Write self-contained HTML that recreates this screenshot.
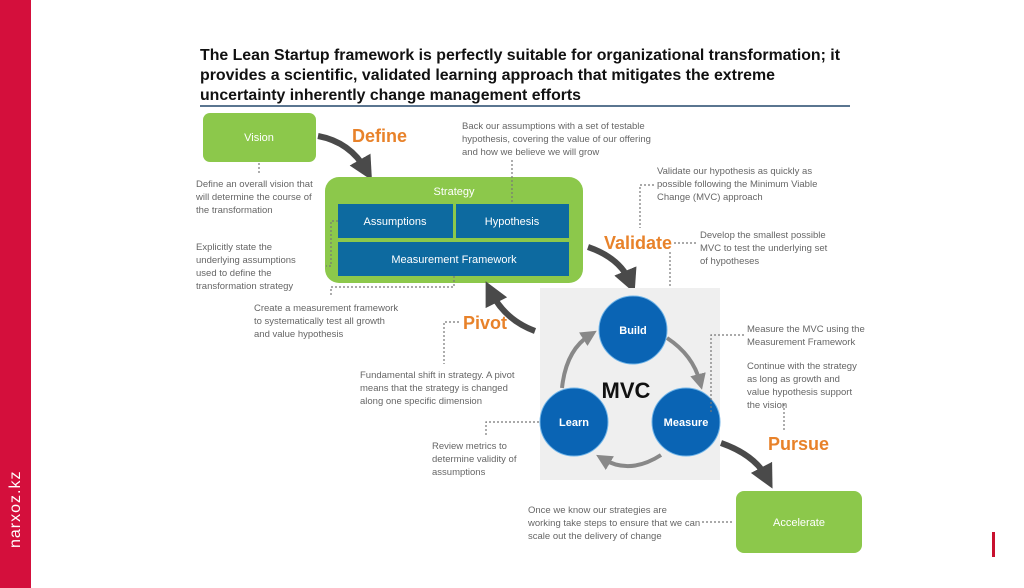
<!DOCTYPE html>
<html><head><meta charset="utf-8"><style>
html,body{margin:0;padding:0;background:#fff;}
svg{display:block;}
text{font-family:"Liberation Sans",sans-serif;}
.n{font-size:9.5px;fill:#666;}
.o{font-size:18px;font-weight:bold;fill:#e8822a;}
.w{fill:#fff;font-size:11px;text-anchor:middle;}
.d{stroke:#777;stroke-width:1.2;stroke-dasharray:2 2;fill:none;}
.a{stroke:#4a4a4a;stroke-width:6;fill:none;}
.g{stroke:#888;stroke-width:4;fill:none;}
</style></head><body>
<svg width="1024" height="588" viewBox="0 0 1024 588">
<defs>
<marker id="ah" markerWidth="4" markerHeight="4" refX="2" refY="2" orient="auto" markerUnits="strokeWidth"><path d="M0,0 L4,2 L0,4 Z" fill="#4a4a4a"/></marker>
<marker id="ag" markerWidth="4" markerHeight="4" refX="2" refY="2" orient="auto" markerUnits="strokeWidth"><path d="M0,0 L4,2 L0,4 Z" fill="#888"/></marker>
</defs>
<rect x="0" y="0" width="31" height="588" fill="#d40f3c"/>
<text transform="translate(20,548) rotate(-90)" font-size="16" fill="#fff" style="letter-spacing:1px">narxoz.kz</text>
<rect x="992" y="532" width="3" height="25" fill="#c8102e"/>
<g font-size="16" font-weight="bold" fill="#111">
<text x="200" y="60" textLength="640" lengthAdjust="spacingAndGlyphs">The Lean Startup framework is perfectly suitable for organizational transformation; it</text>
<text x="200" y="80" textLength="575" lengthAdjust="spacingAndGlyphs">provides a scientific, validated learning approach that mitigates the extreme</text>
<text x="200" y="100" textLength="381" lengthAdjust="spacingAndGlyphs">uncertainty inherently change management efforts</text>
</g>
<rect x="200" y="105" width="650" height="2" fill="#5a7590"/>
<!-- Vision -->
<rect x="203" y="113" width="113" height="49" rx="7" fill="#8cc84b"/>
<text x="259" y="141" class="w">Vision</text>
<text x="352" y="142" class="o">Define</text>
<path class="a" d="M318,136 Q350,142 366,170" marker-end="url(#ah)"/>
<path class="d" d="M259,163 V175"/>
<text class="n"><tspan x="196" y="187">Define an overall vision that</tspan><tspan x="196" y="200">will determine the course of</tspan><tspan x="196" y="213">the transformation</tspan></text>
<!-- Strategy -->
<rect x="325" y="177" width="258" height="106" rx="14" fill="#8cc84b"/>
<text x="454" y="195" class="w">Strategy</text>
<rect x="338" y="204" width="115" height="34" fill="#0d6aa0"/>
<rect x="456" y="204" width="113" height="34" fill="#0d6aa0"/>
<rect x="338" y="242" width="231" height="34" fill="#0d6aa0"/>
<text x="395" y="225" class="w" font-size="12">Assumptions</text>
<text x="512" y="225" class="w" font-size="12">Hypothesis</text>
<text x="454" y="263" class="w" font-size="12">Measurement  Framework</text>
<text class="n"><tspan x="462" y="129">Back our assumptions with a set of testable</tspan><tspan x="462" y="142">hypothesis, covering the value of our offering</tspan><tspan x="462" y="155">and how we believe we will grow</tspan></text>
<path class="d" d="M512,160 V204"/>
<text class="n"><tspan x="196" y="250">Explicitly  state the</tspan><tspan x="196" y="263">underlying assumptions</tspan><tspan x="196" y="276">used to define the</tspan><tspan x="196" y="289">transformation strategy</tspan></text>
<path class="d" d="M338,221 H331 V266 H326"/>
<path class="d" d="M454,276 V287 H331 V297"/>
<text class="n"><tspan x="254" y="311">Create a measurement framework</tspan><tspan x="254" y="324">to systematically test all growth</tspan><tspan x="254" y="337">and value hypothesis</tspan></text>
<!-- Validate -->
<text class="n"><tspan x="657" y="174">Validate our hypothesis as quickly as</tspan><tspan x="657" y="187">possible following the Minimum  Viable</tspan><tspan x="657" y="200">Change (MVC)  approach</tspan></text>
<path class="d" d="M654,185 H640 V228"/>
<text x="604" y="249" class="o">Validate</text>
<path class="d" d="M674,243 H697 M670,252 V330"/>
<text class="n"><tspan x="700" y="238">Develop the smallest possible</tspan><tspan x="700" y="251">MVC  to test the underlying  set</tspan><tspan x="700" y="264">of hypotheses</tspan></text>
<path class="a" d="M588,247 Q620,258 630,282" marker-end="url(#ah)"/>
<!-- MVC -->
<rect x="540" y="288" width="180" height="192" fill="#efefef"/>
<path class="g" d="M562,388 Q566,350 590,335" marker-end="url(#ag)"/>
<path class="g" d="M667,338 Q693,355 700,382" marker-end="url(#ag)"/>
<path class="g" d="M661,455 Q630,475 603,459" marker-end="url(#ag)"/>
<circle cx="633" cy="330" r="34" fill="#0a64b4" stroke="#6fb4e8" stroke-width="1"/>
<circle cx="574" cy="422" r="34" fill="#0a64b4" stroke="#6fb4e8" stroke-width="1"/>
<circle cx="686" cy="422" r="34" fill="#0a64b4" stroke="#6fb4e8" stroke-width="1"/>
<text x="633" y="334" class="w" font-weight="bold">Build</text>
<text x="574" y="426" class="w" font-weight="bold">Learn</text>
<text x="686" y="426" class="w" font-weight="bold">Measure</text>
<text x="626" y="398" font-size="22" font-weight="bold" text-anchor="middle" fill="#111">MVC</text>
<!-- Pivot -->
<text x="463" y="329" class="o">Pivot</text>
<path class="a" d="M535,331 Q505,320 491,292" marker-end="url(#ah)"/>
<path class="d" d="M459,322 H444 V364"/>
<text class="n"><tspan x="360" y="378">Fundamental shift in strategy. A pivot</tspan><tspan x="360" y="391">means that the strategy is changed</tspan><tspan x="360" y="404">along one specific dimension</tspan></text>
<path class="d" d="M539,422 H486 V436"/>
<text class="n"><tspan x="432" y="449">Review metrics to</tspan><tspan x="432" y="462">determine validity of</tspan><tspan x="432" y="475">assumptions</tspan></text>
<!-- Measure notes -->
<path class="d" d="M744,335 H711 V412"/>
<text class="n"><tspan x="747" y="332">Measure the MVC  using the</tspan><tspan x="747" y="345">Measurement Framework</tspan><tspan x="747" y="369">Continue with the strategy</tspan><tspan x="747" y="382">as long as growth and</tspan><tspan x="747" y="395">value hypothesis support</tspan><tspan x="747" y="408">the vision</tspan></text>
<path class="d" d="M784,404 V430"/>
<text x="768" y="450" class="o">Pursue</text>
<path class="a" d="M721,443 Q755,455 767,478" marker-end="url(#ah)"/>
<!-- Accelerate -->
<rect x="736" y="491" width="126" height="62" rx="8" fill="#8cc84b"/>
<text x="799" y="526" class="w">Accelerate</text>
<path class="d" d="M702,522 H734"/>
<text class="n"><tspan x="528" y="513">Once we know our strategies are</tspan><tspan x="528" y="526">working take steps to ensure that we can</tspan><tspan x="528" y="539">scale out the delivery of change</tspan></text>
</svg>
</body></html>
